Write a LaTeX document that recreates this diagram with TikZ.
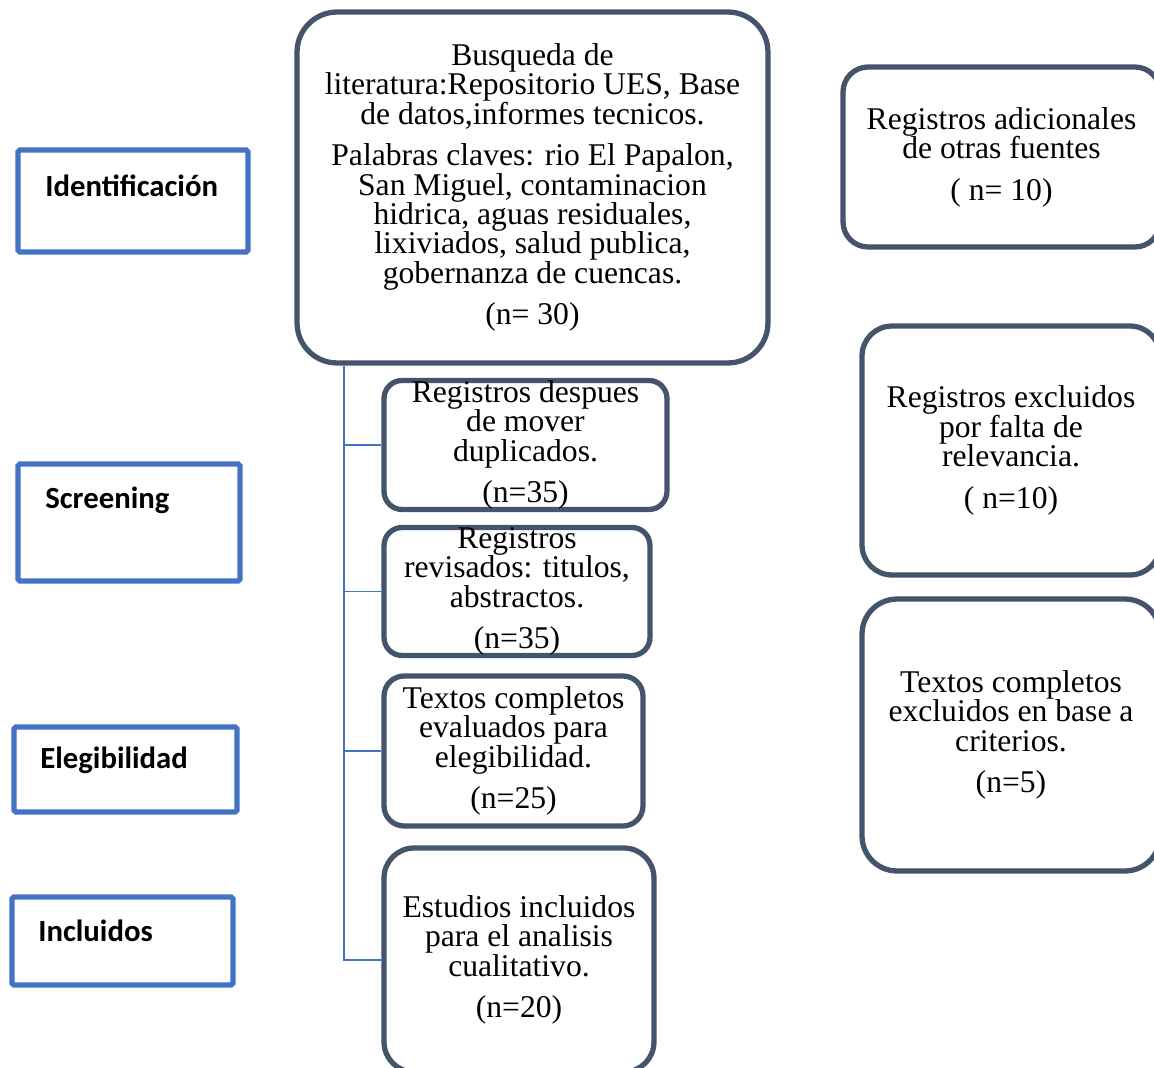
\documentclass[tikz,border=0pt]{standalone}
\usepackage{fontspec}
\setmainfont{Liberation Serif}
\newfontfamily\phasefont{Carlito}
\usepackage{tikz}
\usetikzlibrary{positioning}
\definecolor{record edge}{HTML}{44546A}
\definecolor{phase edge}{HTML}{4472C4}
\tikzset{record/.style={draw=record edge, line width=3pt, fill=white, align=center, inner sep=0pt,
        font=\fontsize{18}{16.7}\selectfont},
    phase/.style={draw=phase edge, line width=3pt, rounded corners=1pt, inner sep=0pt},
    phasetext/.style={font=\phasefont\bfseries\fontsize{17.5}{20}\selectfont, anchor=west, inner sep=0pt},
    link/.style={draw=phase edge, line width=1.1pt}}

\begin{document}
\begin{tikzpicture}[x=0.02cm, y=-0.02cm]
\useasboundingbox (0,0) rectangle (1154,1068);
% phases on the left
\node[phase, minimum width=4.6cm, minimum height=2.04cm] (ident) at (133,201) {};
\node[phasetext] (ident-t) at (45,186) {Identificación};
\node[phase, minimum width=4.44cm, minimum height=2.34cm] (screen) at (129,522.5) {};
\node[phasetext] (screen-t) at (45,500) {Screening};
\node[phase, minimum width=4.46cm, minimum height=1.7cm] (elig) at (125.5,769.5) {};
\node[phasetext] (elig-t) at (40,760) {Elegibilidad};
\node[phase, minimum width=4.42cm, minimum height=1.76cm] (inclu) at (122.5,941) {};
\node[phasetext] (inclu-t) at (38,931) {Incluidos};

% records in the middle
\node[record, rounded corners=0.8cm, minimum width=9.42cm, minimum height=7.02cm] (busq) at (532.5,187.5)
    {Busqueda de\\literatura:Repositorio UES, Base\\de datos,informes tecnicos.\\[7pt]
     Palabras claves: rio El Papalon,\\San Miguel, contaminacion\\hidrica, aguas residuales,\\
     lixiviados, salud publica,\\gobernanza de cuencas.\\[7pt](n= 30)};
\node[record, rounded corners=0.36cm, minimum width=5.66cm, minimum height=2.48cm] (dup) at (525.5,445)
    {Registros despues\\de mover\\duplicados.\\[7pt](n=35)};
\node[record, rounded corners=0.36cm, minimum width=5.32cm, minimum height=2.46cm] (rev) at (517,591.5)
    {Registros\\revisados: titulos,\\abstractos.\\[7pt](n=35)};
\node[record, rounded corners=0.4cm, minimum width=5.18cm, minimum height=3cm] (eleg) at (513.5,751)
    {Textos completos\\evaluados para\\elegibilidad.\\[7pt](n=25)};
\node[record, rounded corners=0.6cm, minimum width=5.4cm, minimum height=4.48cm] (incl) at (519,960)
    {Estudios incluidos\\para el analisis\\cualitativo.\\[7pt](n=20)};

% records on the right
\node[record, rounded corners=0.5cm, minimum width=6.34cm, minimum height=3.6cm] (adic) at (1001.5,157)
    {Registros adicionales\\de otras fuentes\\[7pt]( n= 10)};
\node[record, rounded corners=0.6cm, minimum width=5.96cm, minimum height=4.98cm] (excl) at (1011,450.5)
    {Registros excluidos\\por falta de\\relevancia.\\[7pt]( n=10)};
\node[record, rounded corners=0.7cm, minimum width=5.96cm, minimum height=5.44cm] (txex) at (1011,735)
    {Textos completos\\excluidos en base a\\criterios.\\[7pt](n=5)};

% connector
\coordinate (trunk) at (344,0);
\draw[link] (busq.south -| trunk) -- (incl.west -| trunk) -- (incl.west);
\foreach \n in {dup,rev,eleg}
    \draw[link] (\n.west -| trunk) -- (\n.west);
\end{tikzpicture}
\end{document}
